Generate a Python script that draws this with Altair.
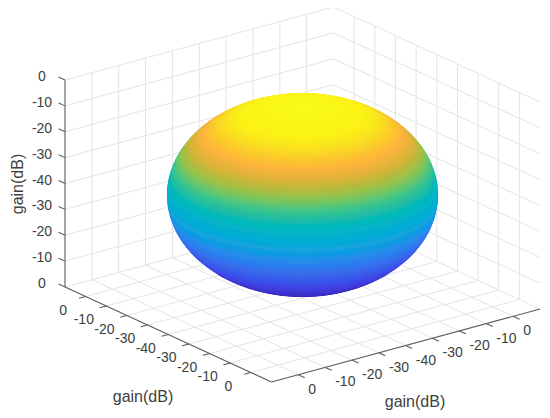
import math
import altair as alt
import pandas as pd

# Box corners (image pixels)
BACK = (333.5, 214.0)
U_VEC = (-268.5, 73.0)   # back corner -> left corner
V_VEC = (206.5, 95.0)    # back corner -> right corner
Z_VEC = (0.0, -207.0)    # floor -> top
SIN_EL = 0.354           # from the box's edges
CENTER = (302.5, 195.0)

Z_LABELS = ["0", "-10", "-20", "-30", "-40", "-30", "-20", "-10", "0"]
LEFT_LABELS = ["0", "-10", "-20", "-30", "-40", "-30", "-20", "-10", "0"]
RIGHT_LABELS = ["0", "-10", "-20", "-30", "-40", "-30", "-20", "-10", "0"]
GRID_STEPS = [1, 2, 3, 4, 5, 6, 7, 8, 9]
Z_STEPS = [0, 1, 2, 3, 4, 5, 6, 7, 8]

# Profile of the solid, bottom to top: height above centre, radius
HEIGHTS = [-90, -87, -85, -82, -79, -76, -73, -70, -67, -64, -61, -58, -55, -52, -50, -48, -46, -44, -42,
           -40, -38, -36, -34, -32, -30, -28, -26, -24, -22, -20, -18, -16, -14, -12, -10, -8, -6, -4, -2,
           0, 2, 4, 6, 8, 10, 12, 14, 16, 18, 20, 22, 24, 26, 28, 30, 32, 34, 36, 38, 40, 42, 44, 46, 48, 50,
           52, 54, 56, 58, 60, 62, 64, 66, 68, 70, 72, 74, 76, 78, 80, 82, 84, 86, 88, 89, 90]
RADII = [3, 35, 44.5, 56, 65, 72.5, 79.5, 85, 90.5, 95.5, 99.5, 103.5, 107, 110.6, 112.7, 114.6, 116.5, 118.2, 119.8,
         121.4, 122.8, 124.2, 125.5, 126.6, 127.8, 128.8, 129.7, 130.6, 131.4, 132.1, 132.8, 133.3, 133.8, 134.3, 134.7, 135, 135.2, 135.4, 135.5,
         135.5, 135.5, 135.4, 135.2, 135, 134.7, 134.3, 133.8, 133.3, 132.8, 132.1, 131.4, 130.6, 129.7, 128.8, 127.8, 126.6, 125.5, 124.2, 122.8, 121.4, 119.8, 118.2, 116.5, 114.6, 112.7,
         110.6, 108.4, 106.1, 103.6, 101, 98.2, 95.3, 92.1, 88.8, 85.2, 81.3, 77.1, 72.6, 67.6, 62.1, 55.8, 48.6, 40, 28.4, 20, 2]

# Colours read down the middle of the solid, keyed by height
COLOR_HEIGHTS = [-76, -55, -35, -20, -8, 8, 20, 30, 38, 46, 53, 60, 66, 72, 78, 90]
COLOR_HEX = ["#3a28c0", "#3f45e6", "#3a6cec", "#2a8cea", "#1ca4dc", "#0cb4c8", "#20bca8", "#4cc680",
             "#88c455", "#bcb83c", "#e4b23a", "#fcb43c", "#fbc82c", "#f9de20", "#fbf016", "#f9fb15"]


def project(u, v, z):
    return (BACK[0] + u * U_VEC[0] + v * V_VEC[0] + z * Z_VEC[0],
            BACK[1] + u * U_VEC[1] + v * V_VEC[1] + z * Z_VEC[1])


def seg(a, b):
    pa, pb = project(*a), project(*b)
    return {"x": pa[0], "y": pa[1], "x2": pb[0], "y2": pb[1]}


grid_rows = []
for k in GRID_STEPS:
    f = k / 10
    grid_rows += [seg((f, 0, 0), (f, 0, 1)), seg((0, f, 0), (0, f, 1)),
                  seg((f, 0, 0), (f, 1, 0)), seg((0, f, 0), (1, f, 0))]
for j in Z_STEPS:
    f = j / 8
    grid_rows += [seg((0, 0, f), (1, 0, f)), seg((0, 0, f), (0, 1, f))]

axis_rows = [seg((1, 0, 0), (1, 0, 1)), seg((1, 0, 0), (1, 1, 0)), seg((0, 1, 0), (1, 1, 0))]
TICK_V = 0.031
TICK_U = 0.025
for j in Z_STEPS:
    f = j / 8
    axis_rows.append(seg((1, 0, f), (1, -TICK_V, f)))
for k in GRID_STEPS:
    f = k / 10
    axis_rows.append(seg((1, f, 0), (1 + TICK_U, f, 0)))
    axis_rows.append(seg((f, 1, 0), (f, 1 + TICK_V, 0)))

z_text = []
for j, lab in zip(Z_STEPS, reversed(Z_LABELS)):
    p = project(1, 0, j / 8)
    z_text.append({"x": 42, "y": p[1] - 3, "t": lab})
left_text = []
for k, lab in zip(GRID_STEPS, LEFT_LABELS):
    p = project(1, k / 10, 0)
    left_text.append({"x": p[0] - 22.5, "y": p[1] + 14, "t": lab})
right_text = []
for k, lab in zip(reversed(GRID_STEPS), RIGHT_LABELS):
    p = project(k / 10, 1, 0)
    right_text.append({"x": p[0] + 10, "y": p[1] + 15, "t": lab})

disc_rows = []
N = 60
for i, (h, r) in enumerate(zip(HEIGHTS, RADII)):
    cy = CENTER[1] - h
    for a in range(N + 1):
        t = math.pi * a / N
        disc_rows.append({
            "disc": f"{i:03d}", "h": h,
            "x": CENTER[0] - r * math.cos(t),
            "y": cy - SIN_EL * r * math.sin(t),
            "y2": cy + SIN_EL * r * math.sin(t),
        })

xs = alt.Scale(domain=[8, 542], nice=False, zero=False)
ys = alt.Scale(domain=[410, 8], nice=False, zero=False)
X = alt.X("x:Q", scale=xs, axis=None)
Y = alt.Y("y:Q", scale=ys, axis=None)

grid = alt.Chart(pd.DataFrame(grid_rows)).mark_rule(color="#e4e4e6", strokeWidth=1).encode(
    x=X, y=Y, x2="x2:Q", y2="y2:Q")
axes = alt.Chart(pd.DataFrame(axis_rows)).mark_rule(color="#5c5c5c", strokeWidth=1.1).encode(
    x=X, y=Y, x2="x2:Q", y2="y2:Q")
solid = alt.Chart(pd.DataFrame(disc_rows)).mark_area(orient="vertical", opacity=1).encode(
    x=X, y=Y, y2="y2:Q", detail="disc:N",
    fill=alt.Fill("h:Q", legend=None, scale=alt.Scale(domain=COLOR_HEIGHTS, range=COLOR_HEX)),
)
TEXT = "#404040"
FONT = "Liberation Sans"
def labels(rows, align):
    return alt.Chart(pd.DataFrame(rows)).mark_text(
        font=FONT, fontSize=14, color=TEXT, align=align, baseline="middle").encode(x=X, y=Y, text="t:N")

titles = alt.Chart(pd.DataFrame([
    {"x": 143, "y": 397, "t": "gain(dB)"}, {"x": 415, "y": 402, "t": "gain(dB)"}])).mark_text(
    font=FONT, fontSize=16, color=TEXT, align="center", baseline="middle").encode(x=X, y=Y, text="t:N")
ztitle = alt.Chart(pd.DataFrame([{"x": 18, "y": 184, "t": "gain(dB)"}])).mark_text(
    font=FONT, fontSize=16, color=TEXT, align="center", baseline="middle", angle=270).encode(x=X, y=Y, text="t:N")

chart = alt.layer(
    grid, axes, solid, labels(z_text, "center"), labels(left_text, "center"),
    labels(right_text, "left"), titles, ztitle).properties(
    width=534, height=402, padding=0, background="white", autosize=alt.AutoSizeParams(type="none")
).configure_view(stroke=None)

chart.save("out.html", embed_options={"renderer": "svg", "actions": False})
